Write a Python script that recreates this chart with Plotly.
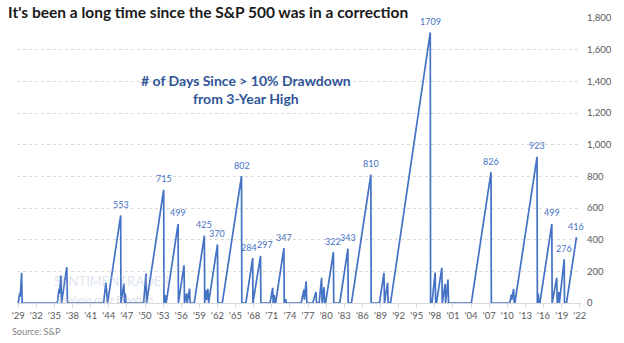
import plotly.graph_objects as go

# Decimal-year positions and "# of days since >10% drawdown" values (vertices of the series)
years = [
    1929.00, 1929.24, 1929.33, 1929.57, 1929.65,
    1935.48, 1935.77, 1935.85, 1936.06, 1936.18, 1937.04, 1937.16,
    1943.14, 1943.52, 1943.80, 1945.97, 1946.01, 1946.50, 1946.62, 1946.75, 1946.85,
    1949.77, 1950.16, 1950.26, 1953.09, 1953.14, 1953.31, 1953.50, 1955.48, 1955.53,
    1956.46, 1956.54, 1956.90, 1956.98, 1957.38, 1957.47,
    1958.15, 1959.83, 1959.88, 1960.08, 1960.16, 1960.40, 1960.53, 1962.00, 1962.05,
    1962.80, 1965.98, 1966.03, 1966.70, 1967.83, 1967.87, 1969.13, 1969.18,
    1970.71, 1971.14, 1971.22, 1971.41, 1971.50, 1971.63, 1973.00, 1973.05, 1973.30, 1973.40,
    1975.87, 1976.31, 1976.39, 1976.68, 1976.80, 1977.78, 1978.31, 1978.40, 1978.84,
    1979.24, 1979.33, 1979.65, 1979.73, 1979.90, 1981.20, 1981.25,
    1982.25, 1983.60, 1983.65, 1984.19, 1987.40, 1987.45,
    1988.82, 1989.57, 1989.65, 1990.17, 1990.26, 1990.66, 1997.24, 1997.29,
    1997.52, 1998.05, 1998.13, 1998.27, 1999.15, 1999.23, 1999.69, 1999.77, 2000.17, 2000.26,
    2004.04, 2007.30, 2007.35,
    2010.40, 2010.68, 2010.73, 2011.05, 2011.14, 2011.25, 2014.92, 2014.97,
    2015.13, 2015.21, 2015.39, 2017.37, 2017.42,
    2018.18, 2018.27, 2018.56, 2018.62, 2019.42, 2019.47, 2019.80, 2021.45,
]
days = [
    0, 60, 40, 190, 0,
    0, 90, 60, 173, 0, 226, 0,
    0, 129, 0, 553, 0, 123, 0, 60, 0,
    0, 186, 0, 715, 0, 50, 0, 499, 0,
    238, 0, 60, 0, 90, 0,
    0, 425, 0, 80, 20, 90, 0, 370, 0,
    0, 802, 0, 0, 284, 0, 297, 0,
    0, 96, 0, 50, 0, 0, 347, 0, 25, 0,
    0, 85, 20, 137, 0, 0, 70, 0, 0,
    159, 0, 100, 0, 0, 322, 0,
    0, 343, 0, 0, 810, 0,
    0, 190, 0, 127, 0, 0, 1709, 0,
    0, 192, 0, 0, 222, 0, 120, 0, 148, 0,
    0, 826, 0,
    0, 54, 20, 89, 0, 0, 923, 0,
    60, 0, 0, 499, 0,
    159, 0, 70, 0, 276, 0, 0, 416,
]

# Peaks that carry a data label
label_values = [553, 715, 499, 425, 370, 802, 284, 297, 347, 322, 343, 810, 1709, 826, 923, 499, 276, 416]
label_xshift = {284: -4, 297: 4}

tick_years = list(range(1929, 2023, 3))
tick_text = ["'" + str(y)[2:] for y in tick_years]

title_text = "It's been a long time since the S&P 500 was in a correction"
note_text = "# of Days Since > 10% Drawdown<br>from 3-Year High"
source_text = "Source: S&P"

LINE = "#4472C4"

fig = go.Figure()
fig.add_trace(go.Scatter(
    x=years, y=days, mode="lines",
    line=dict(color=LINE, width=1.7),
    hoverinfo="skip", showlegend=False,
))

# data labels at peaks
used = set()
for v in label_values:
    for i, d in enumerate(days):
        if d == v and i not in used:
            used.add(i)
            fig.add_annotation(
                x=years[i], y=d, text=str(v), showarrow=False,
                yshift=11, xshift=label_xshift.get(v, 0),
                font=dict(family="Lato, sans-serif", size=9, color=LINE),
            )
            break

# watermark
fig.add_annotation(xref="paper", yref="paper", x=0.062, y=0.078, xanchor="left", yanchor="middle",
                   text="SENTIMENTRADER", showarrow=False,
                   font=dict(family="Lato, sans-serif", size=13, color="rgba(170,190,215,0.4)"))
fig.add_annotation(xref="paper", yref="paper", x=0.066, y=0.014, xanchor="left", yanchor="middle",
                   text="Analysis over Emotion", showarrow=False,
                   font=dict(family="Lato, sans-serif", size=10, color="rgba(170,180,195,0.45)"))

# in-chart note
fig.add_annotation(xref="paper", yref="paper", x=0.406, y=0.749, xanchor="center", yanchor="middle",
                   text="<b>" + note_text.replace("<br>", "</b><br><b>") + "</b>", showarrow=False,
                   font=dict(family="Lato, sans-serif", size=14, color="#2F5597"))

# source
fig.add_annotation(xref="paper", yref="paper", x=-0.012, y=-0.1, xanchor="left", yanchor="middle",
                   text=source_text, showarrow=False,
                   font=dict(family="Lato, sans-serif", size=9, color="#7F7F7F"))

fig.update_layout(
    width=624, height=343,
    margin=dict(l=15, r=37, t=18, b=40),
    paper_bgcolor="white", plot_bgcolor="white",
    title=dict(text="<b>" + title_text + "</b>", x=0.013, xanchor="left", y=0.962, yanchor="middle",
               font=dict(family="Lato, sans-serif", size=15.5, color="#1a1a1a")),
    xaxis=dict(
        range=[1928.8, 2022.2], tickvals=tick_years, ticktext=tick_text,
        showgrid=False, zeroline=False,
        showline=True, linecolor="#d9d9d9", linewidth=1,
        ticks="outside", ticklen=4, tickcolor="#d9d9d9",
        tickfont=dict(family="Lato, sans-serif", size=9.5, color="#595959"),
    ),
    yaxis=dict(
        side="right", range=[0, 1800], dtick=200, tickformat=",d",
        showgrid=True, gridcolor="#d9d9d9", griddash="dot", gridwidth=1,
        zeroline=False, showline=False, ticks="", ticklabelstandoff=5,
        tickfont=dict(family="Lato, sans-serif", size=9.5, color="#595959"),
    ),
)

fig.write_html("out.html")
